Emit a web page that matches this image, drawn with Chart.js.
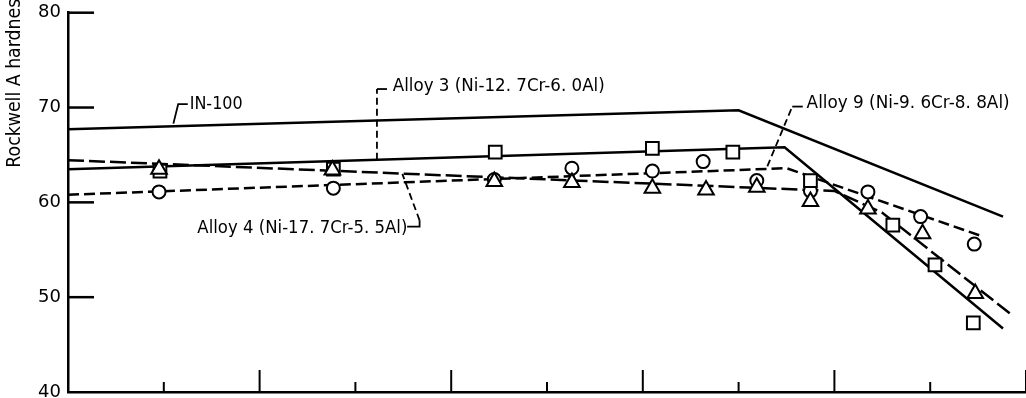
<!DOCTYPE html>
<html lang="en">
<head>
  <meta charset="UTF-8">
  <title>Rockwell A hardness</title>
  <script src="https://cdn.jsdelivr.net/npm/chart.js"></script>
  <style>
    html, body { margin: 0; padding: 0; background: #fff; overflow: hidden; }
    #wrap { position: absolute; left: 0; top: -20px; }
  </style>
</head>
<body>

  <div id="wrap"><canvas id="grafico" width="1040" height="440"></canvas></div>

  <script>
    // x axis labels are cut off in the scan, so the axis just runs 0..10 tick units
    const xTicks = [0, 1, 2, 3, 4, 5, 6, 7, 8, 9, 10];
    const yTicks = [40, 50, 60, 70, 80];

    // fitted curves (break points)
    const in100X = [0, 7.0, 9.76];
    const in100Y = [67.7, 69.7, 58.5];
    const alloy3X = [0, 7.48, 9.76];
    const alloy3Y = [63.5, 65.8, 46.7];
    const alloy4X = [0, 8.0, 8.5, 9.83];
    const alloy4Y = [64.45, 61.2, 58.9, 48.3];
    const alloy9X = [0, 7.5, 9.52];
    const alloy9Y = [60.8, 63.6, 56.5];

    // measured points: squares = alloy 3, triangles = alloy 4, circles = alloy 9
    const sqX = [0.96, 2.77, 4.46, 6.1, 6.94, 7.75, 8.61, 9.05, 9.45];
    const sqY = [63.3, 63.5, 65.3, 65.7, 65.3, 62.3, 57.6, 53.4, 47.3];
    const triX = [0.95, 2.76, 4.45, 5.26, 6.1, 6.66, 7.19, 7.75, 8.35, 8.92, 9.47];
    const triY = [63.5, 63.4, 62.2, 62.1, 61.5, 61.3, 61.6, 60.1, 59.3, 56.7, 50.4];
    const cirX = [0.95, 2.77, 4.45, 5.26, 6.1, 6.63, 7.19, 7.75, 8.35, 8.9, 9.46];
    const cirY = [61.1, 61.5, 62.4, 63.6, 63.3, 64.3, 62.3, 61.2, 61.1, 58.5, 55.6];

    const FONT = "'DejaVu Sans', sans-serif";

    // callouts, placed in data units
    const notes = [
      { text: 'IN-100', x: 1.27, y: 70.35, w: 53,
        solid: [[1.10, 68.3], [1.15, 70.35], [1.25, 70.35]], dashed: [] },
      { text: 'Alloy 3 (Ni-12. 7Cr-6. 0Al)', x: 3.39, y: 72.2, w: 212,
        solid: [[3.225, 71.95], [3.33, 71.95]], dashed: [[3.225, 64.5], [3.225, 71.95]] },
      { text: 'Alloy 4 (Ni-17. 7Cr-5. 5Al)', x: 1.35, y: 57.3, w: 210,
        solid: [[3.54, 57.45], [3.67, 57.45], [3.67, 58.1]], dashed: [[3.67, 58.1], [3.49, 63.0]] },
      { text: 'Alloy 9 (Ni-9. 6Cr-8. 8Al)', x: 7.71, y: 70.42, w: 203,
        solid: [[7.56, 70.1], [7.67, 70.1]], dashed: [[7.30, 63.8], [7.56, 70.1]] }
    ];

    const pts = (xs, ys) => xs.map((x, i) => ({ x, y: ys[i] }));

    function curva(data, dash) {
      return {
        data, showLine: true, borderColor: '#000', borderWidth: 2.5,
        borderDash: dash, pointRadius: 0, fill: false, tension: 0, order: 2
      };
    }

    function marcas(data, style, r) {
      return {
        data, showLine: false, pointStyle: style, pointRadius: r,
        pointBorderColor: '#000', pointBackgroundColor: '#fff',
        pointBorderWidth: 2, order: 1
      };
    }

    function polyline(chart, path, dash) {
      if (path.length < 2) return;
      const { ctx, scales: { x, y } } = chart;
      ctx.setLineDash(dash);
      ctx.beginPath();
      path.forEach(([a, b], i) => {
        const px = x.getPixelForValue(a), py = y.getPixelForValue(b);
        if (i === 0) ctx.moveTo(px, py); else ctx.lineTo(px, py);
      });
      ctx.stroke();
    }

    function fitText(ctx, text, px, py, w) {
      const m = ctx.measureText(text).width;
      ctx.save();
      ctx.translate(px, py);
      ctx.scale(w / m, 1);
      ctx.fillText(text, 0, 0);
      ctx.restore();
    }

    const decor = {
      id: 'decor',
      afterDraw(chart) {
        const { ctx, chartArea: a, scales: { x, y } } = chart;
        ctx.save();
        ctx.strokeStyle = '#000';
        ctx.fillStyle = '#000';

        // inward tick marks
        ctx.lineWidth = 2.5;
        yTicks.forEach(v => {
          if (v === 40) return;
          const py = y.getPixelForValue(v);
          ctx.beginPath(); ctx.moveTo(a.left, py); ctx.lineTo(a.left + 26, py); ctx.stroke();
        });
        ctx.lineWidth = 2;
        xTicks.forEach(v => {
          if (v === 0) return;
          const px = x.getPixelForValue(v);
          const len = v % 2 ? 10 : 22;
          ctx.beginPath(); ctx.moveTo(px, a.bottom); ctx.lineTo(px, a.bottom - len); ctx.stroke();
        });

        // callout leaders and text
        ctx.lineWidth = 1.8;
        ctx.font = '18px ' + FONT;
        ctx.textBaseline = 'middle';
        ctx.textAlign = 'left';
        notes.forEach(n => {
          polyline(chart, n.solid, []);
          polyline(chart, n.dashed, [7, 4]);
          fitText(ctx, n.text, x.getPixelForValue(n.x), y.getPixelForValue(n.y), n.w);
        });

        // y axis title, rotated
        ctx.setLineDash([]);
        ctx.font = '20px ' + FONT;
        ctx.textBaseline = 'alphabetic';
        ctx.textAlign = 'left';
        ctx.save();
        ctx.translate(20, a.top + 155);
        ctx.rotate(-Math.PI / 2);
        fitText(ctx, 'Rockwell A hardness', 0, 0, 178);
        ctx.restore();

        ctx.restore();
      }
    };

    const ctx = document.getElementById('grafico').getContext('2d');
    new Chart(ctx, {
      type: 'scatter',
      data: {
        datasets: [
          marcas(pts(triX, triY), 'triangle', 9),
          marcas(pts(sqX, sqY), 'rect', 9),
          marcas(pts(cirX, cirY), 'circle', 6.5),
          curva(pts(in100X, in100Y), []),
          curva(pts(alloy3X, alloy3Y), []),
          curva(pts(alloy4X, alloy4Y), [16, 5]),
          curva(pts(alloy9X, alloy9Y), [11, 5])
        ]
      },
      options: {
        responsive: false,
        animation: false,
        layout: { padding: { top: 32.7, right: 14, bottom: 0, left: 0 } },
        plugins: { legend: { display: false }, tooltip: { enabled: false } },
        scales: {
          x: {
            type: 'linear', min: 0, max: 10,
            ticks: { display: false, stepSize: 1 },
            grid: { display: false, drawTicks: false },
            border: { display: true, color: '#000', width: 2.5 },
            afterFit: s => { s.height = 28; }
          },
          y: {
            min: 40, max: 80,
            ticks: { stepSize: 10, color: '#000', padding: 7, font: { size: 18, family: FONT } },
            grid: { display: false, drawTicks: false },
            border: { display: true, color: '#000', width: 2.5 },
            afterFit: s => { s.width = 68; }
          }
        }
      },
      plugins: [decor]
    });
  </script>

</body>
</html>
